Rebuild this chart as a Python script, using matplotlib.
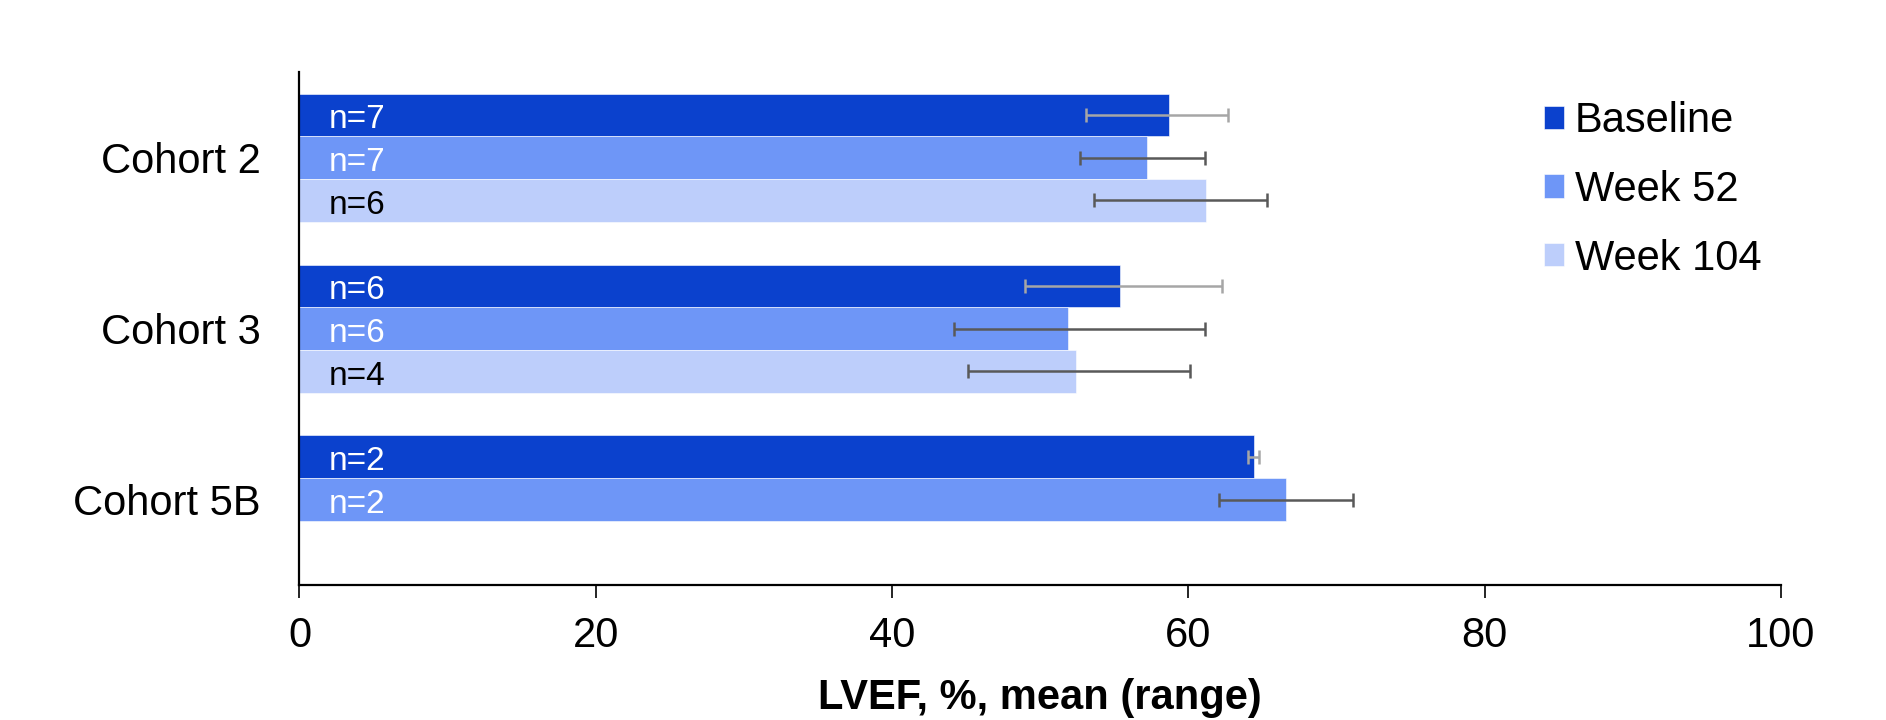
"""LVEF by cohort and timepoint, horizontal grouped bars with ranges."""

import matplotlib
matplotlib.use("Agg")
import matplotlib.pyplot as plt
import numpy as np

plt.rcParams["font.family"] = ["Liberation Sans", "DejaVu Sans"]

cohorts = ["Cohort 2", "Cohort 3", "Cohort 5B"]
timepoints = ["Baseline", "Week 52", "Week 104"]

baseline_mean = [58.7, 55.4, 64.4]
baseline_lo = [53.1, 49.0, 64.0]
baseline_hi = [62.7, 62.3, 64.8]
baseline_n = [7, 6, 2]

week52_mean = [57.2, 51.9, 66.6]
week52_lo = [52.7, 44.2, 62.1]
week52_hi = [61.1, 61.1, 71.1]
week52_n = [7, 6, 2]

week104_mean = [61.2, 52.4, np.nan]
week104_lo = [53.6, 45.1, np.nan]
week104_hi = [65.3, 60.1, np.nan]
week104_n = [6, 4, None]

series = [
    (baseline_mean, baseline_lo, baseline_hi, baseline_n),
    (week52_mean, week52_lo, week52_hi, week52_n),
    (week104_mean, week104_lo, week104_hi, week104_n),
]
bar_colors = ["#0b41cd", "#6e96f7", "#bdcefb"]
err_colors = ["#a6a6a6", "#595959", "#595959"]
text_colors = ["white", "white", "black"]

fig = plt.figure(figsize=(18.86, 7.2), dpi=100)
ax = fig.add_axes([0.1588, 0.1875, 0.7855, 0.7121])

height = 0.25
base = np.arange(len(cohorts))
for j, (mean, lo, hi, ns) in enumerate(series):
    mean = np.array(mean, dtype=float)
    y = base + 0.25 + height * j
    ok = ~np.isnan(mean)
    ax.barh(y[ok], mean[ok], height=height, color=bar_colors[j],
            edgecolor="white", linewidth=0.4, label=timepoints[j])
    xerr = np.array([mean - np.array(lo), np.array(hi) - mean])
    ax.errorbar(mean[ok], y[ok], xerr=xerr[:, ok], fmt="none",
                ecolor=err_colors[j], elinewidth=1.8, capsize=5, capthick=1.8)
    # nudge down a little: no descenders, so bbox centre sits high
    for yy, n in zip(y[ok], np.array(ns)[ok]):
        ax.text(2.0, yy + 0.028, f"n={n}", ha="left", va="center", fontsize=24,
                color=text_colors[j])

ax.set_xlim(0, 100)
ax.set_ylim(3, 0)
ax.set_xticks(np.arange(0, 101, 20))
ax.set_yticks(base + 0.5)
ax.set_yticklabels(cohorts)
ax.tick_params(axis="x", labelsize=30, length=9, width=1.2, pad=13)
ax.tick_params(axis="y", labelsize=30, length=0, pad=28)
for side in ["top", "right"]:
    ax.spines[side].set_visible(False)
for side in ["left", "bottom"]:
    ax.spines[side].set_linewidth(1.6)
ax.set_xlabel("LVEF, %, mean (range)", fontsize=30, fontweight="bold", labelpad=16)

ax.legend(loc="upper left", bbox_to_anchor=(1544 / 1886, 1 - 101 / 720),
          bbox_transform=fig.transFigure, frameon=False, fontsize=30,
          handlelength=0.48, handleheight=0.48, handletextpad=0.26,
          labelspacing=0.69, borderpad=0, borderaxespad=0)

fig.savefig("out.png", dpi=100)
